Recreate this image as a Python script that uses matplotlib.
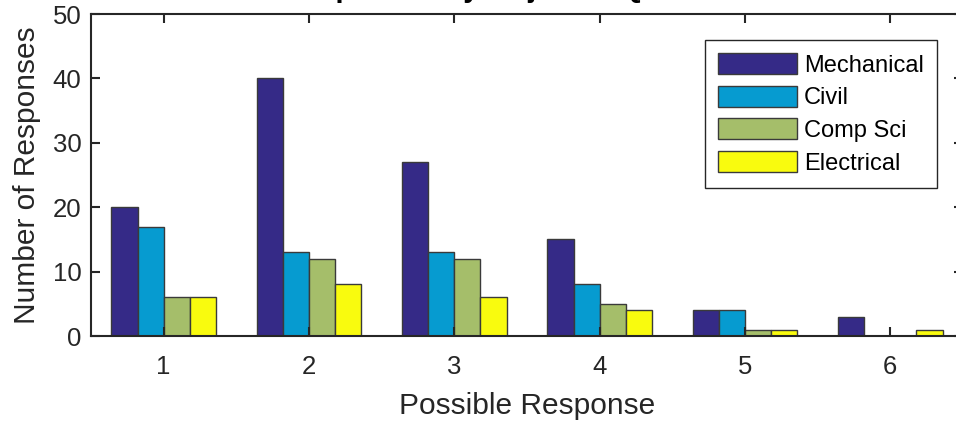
import matplotlib.pyplot as plt
import numpy as np

plt.rcParams['font.family'] = ['Liberation Sans', 'DejaVu Sans']

responses = [1, 2, 3, 4, 5, 6]
majors = ['Mechanical', 'Civil', 'Comp Sci', 'Electrical']
mechanical = [20, 40, 27, 15, 4, 3]
civil = [17, 13, 13, 8, 4, 0]
comp_sci = [6, 12, 12, 5, 1, 0]
electrical = [6, 8, 6, 4, 1, 1]
colors = ['#352a87', '#069bd0', '#a5be6a', '#f9fb0e']


def make_bar_chart(series):
    fig = plt.figure(figsize=(9.56, 4.26), dpi=100)
    ax = fig.add_axes([91 / 956, 90 / 426, 872 / 956, 322 / 426])

    x = np.array(responses)
    w = 0.18
    offsets = [-1.5 * w, -0.5 * w, 0.5 * w, 1.5 * w]
    for vals, name, col, off in zip(series, majors, colors, offsets):
        ax.bar(x + off, vals, w, color=col, edgecolor='#3a3a3a',
               linewidth=1, label=name)

    ax.set_xlim(0.5, 6.5)
    ax.set_ylim(0, 50)
    ax.set_xticks(responses)
    ax.set_yticks(range(0, 51, 10))

    for s in ax.spines.values():
        s.set_color('#262626')
        s.set_linewidth(1.5)
    ax.tick_params(direction='in', length=6.5, width=1.5, colors='#262626',
                   labelsize=18.5, top=True, right=True, labelcolor='#262626')
    ax.tick_params(axis='x', pad=14)
    ax.tick_params(axis='y', pad=7)

    ax.set_xlabel('Possible Response', fontsize=21.5, color='#262626', labelpad=9)
    ax.set_ylabel('Number of Responses', fontsize=21.5, color='#262626', labelpad=8)
    ax.set_title('Responses by Major for Question 1', fontsize=21,
                 fontweight='bold', pad=12)

    leg = ax.legend(loc='upper left', bbox_to_anchor=(0.704, 0.919),
                    borderaxespad=0, fontsize=17, fancybox=False,
                    edgecolor='#262626', framealpha=1, handlelength=3.35,
                    handleheight=1.0, handletextpad=0.3, labelspacing=0.38,
                    borderpad=0.55)
    leg.get_frame().set_linewidth(1)

    fig.savefig('out.png', dpi=100)


make_bar_chart([mechanical, civil, comp_sci, electrical])
